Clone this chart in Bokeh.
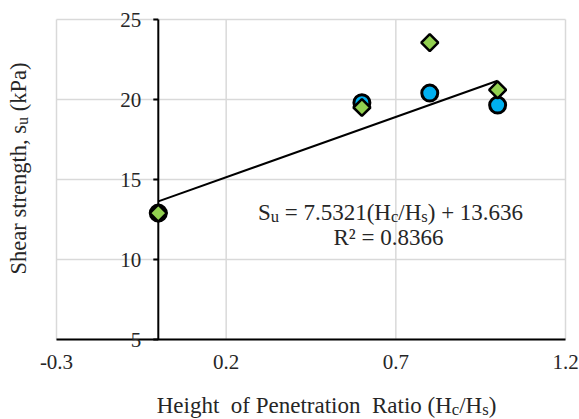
import math
from bokeh.plotting import figure
from bokeh.models import Range1d, Label
from bokeh.embed import file_html
from bokeh.resources import INLINE

# Height of penetration ratio (Hc/Hs) and shear strength su (kPa)
ratio = [0.0, 0.6, 0.8, 1.0]
su_series_a = [12.9, 19.8, 20.4, 19.65]
su_series_b = [12.9, 19.5, 23.55, 20.6]

# Linear trend fitted through the tests
slope = 7.5321
intercept = 13.636
r_squared = 0.8366

x_ticks = [-0.3, 0.2, 0.7, 1.2]
x_tick_labels = ["-0.3", "0.2", "0.7", "1.2"]
y_ticks = [5, 10, 15, 20, 25]
y_tick_labels = ["5", "10", "15", "20", "25"]

FONT = "Liberation Serif"
TEXT_COLOR = "#262626"
GRID_COLOR = "#d9d9d9"

W, H = 579, 419
# plotting box inside the canvas (pixels): left, right, top, bottom
BOX_L, BOX_R, BOX_T, BOX_B = 56, 565, 19, 339
x_lo, x_hi = x_ticks[0], x_ticks[-1]
y_lo, y_hi = y_ticks[0], y_ticks[-1]
px_per_x = (BOX_R - BOX_L) / (x_hi - x_lo)
px_per_y = (BOX_B - BOX_T) / (y_hi - y_lo)

# the frame covers the whole canvas so that the titles are never clipped
p = figure(width=W, height=H, output_backend="svg", toolbar_location=None,
           x_range=Range1d(x_lo - BOX_L / px_per_x, x_hi + (W - BOX_R) / px_per_x),
           y_range=Range1d(y_lo - (H - BOX_B) / px_per_y, y_hi + BOX_T / px_per_y),
           x_axis_location=None, y_axis_location=None,
           min_border=0)
p.outline_line_color = None
p.background_fill_color = "white"
p.border_fill_color = "white"
p.xgrid.visible = False
p.ygrid.visible = False

# grid lines
p.segment(x0=x_ticks, y0=[y_lo] * len(x_ticks), x1=x_ticks, y1=[y_hi] * len(x_ticks),
          line_color=GRID_COLOR, line_width=1.5)
p.segment(x0=[x_lo] * len(y_ticks), y0=y_ticks, x1=[x_hi] * len(y_ticks), y1=y_ticks,
          line_color=GRID_COLOR, line_width=1.5)

# trend line over the tested range
trend_x = [min(ratio), max(ratio)]
trend_y = [slope * v + intercept for v in trend_x]
p.line(trend_x, trend_y, line_color="black", line_width=2)

# axis lines: horizontal axis at su = 5, vertical axis at ratio = 0
p.segment(x0=[x_lo], y0=[y_lo], x1=[x_hi], y1=[y_lo], line_color="black", line_width=2)
p.segment(x0=[0], y0=[y_lo], x1=[0], y1=[y_hi], line_color="black", line_width=2)
p.ray(x=[0] * len(y_ticks), y=y_ticks, length=5, length_units="screen",
      angle=math.pi, line_color="black", line_width=2)

# tick labels
p.text(x=x_ticks, y=[y_lo] * len(x_ticks), text=x_tick_labels,
       text_font={"value": FONT}, text_font_size="21px", text_color=TEXT_COLOR,
       text_align="center", text_baseline="top", y_offset=15)
p.text(x=[0] * len(y_ticks), y=y_ticks, text=y_tick_labels,
       text_font={"value": FONT}, text_font_size="21px", text_color=TEXT_COLOR,
       text_align="right", text_baseline="middle", x_offset=-17)

# test points
p.scatter(ratio, su_series_a, marker="circle", size=16, fill_color="#00B0F0",
          line_color="black", line_width=3)
p.scatter(ratio, su_series_b, marker="square", size=12, angle=math.pi / 4,
          fill_color="#92D050", line_color="black", line_width=2.5)

# --- text with subscripts, composed from runs ---
ADV = {" ": 250, "(": 333, ")": 333, "+": 564, ",": 250, "-": 333, ".": 250,
       "/": 278, "=": 564, "\u00b2": 300, "H": 722, "P": 556, "R": 667,
       "S": 556, "a": 444, "c": 444, "e": 444, "f": 333, "g": 500, "h": 500,
       "i": 278, "k": 500, "n": 500, "o": 500, "r": 333, "s": 389, "t": 278,
       "u": 500}


def text_width(s, size):
    return sum(ADV.get(ch, 500) for ch in s) * size / 1000.0


SUB_SCALE = 0.72
SUB_DROP = 0.18
BASELINE_LIFT = 8  # pixels


def place_runs(runs, x, y, size, vertical=False):
    total = sum(text_width(t, size * SUB_SCALE if s else size) for t, s in runs)
    pos = -total / 2.0
    for txt, sub in runs:
        fs = size * SUB_SCALE if sub else size
        drop = (size * SUB_DROP if sub else 0.0) - BASELINE_LIFT
        lead = len(txt) - len(txt.lstrip(" "))
        pos += text_width(" " * lead, fs)
        body = txt.strip(" ")
        trail = len(txt.lstrip(" ")) - len(body)
        if vertical:
            lab = Label(x=x, y=y, x_offset=drop, y_offset=pos, angle=math.pi / 2)
        else:
            lab = Label(x=x, y=y, x_offset=pos, y_offset=-drop)
        lab.text = body
        lab.text_font = FONT
        lab.text_font_size = f"{fs:.1f}px"
        lab.text_color = TEXT_COLOR
        lab.text_align = "left"
        lab.text_baseline = "alphabetic"
        p.add_layout(lab)
        pos += text_width(body, fs) + text_width(" " * trail, fs)


def data_x(px):
    return x_lo + (px - BOX_L) / px_per_x


def data_y(py):
    return y_lo + (BOX_B - py) / px_per_y


# axis titles (wide word gaps kept as separate runs)
place_runs([("Height", False), ("  of Penetration", False), ("  Ratio (H", False),
            ("c", True), ("/H", False), ("s", True), (")", False)],
           data_x(326), data_y(413), 23)
place_runs([("Shear strength, s", False), ("u", True), (" (kPa)", False)],
           data_x(26), data_y(168), 22.5, vertical=True)

# regression equation
place_runs([("S", False), ("u", True), (f" = {slope}(H", False), ("c", True),
            ("/H", False), ("s", True), (f") + {intercept}", False)],
           data_x(390), data_y(220), 23)
place_runs([(f"R\u00b2 = {r_squared}", False)], data_x(388), data_y(245), 23)

open("out.html", "w").write(file_html(p, INLINE))
